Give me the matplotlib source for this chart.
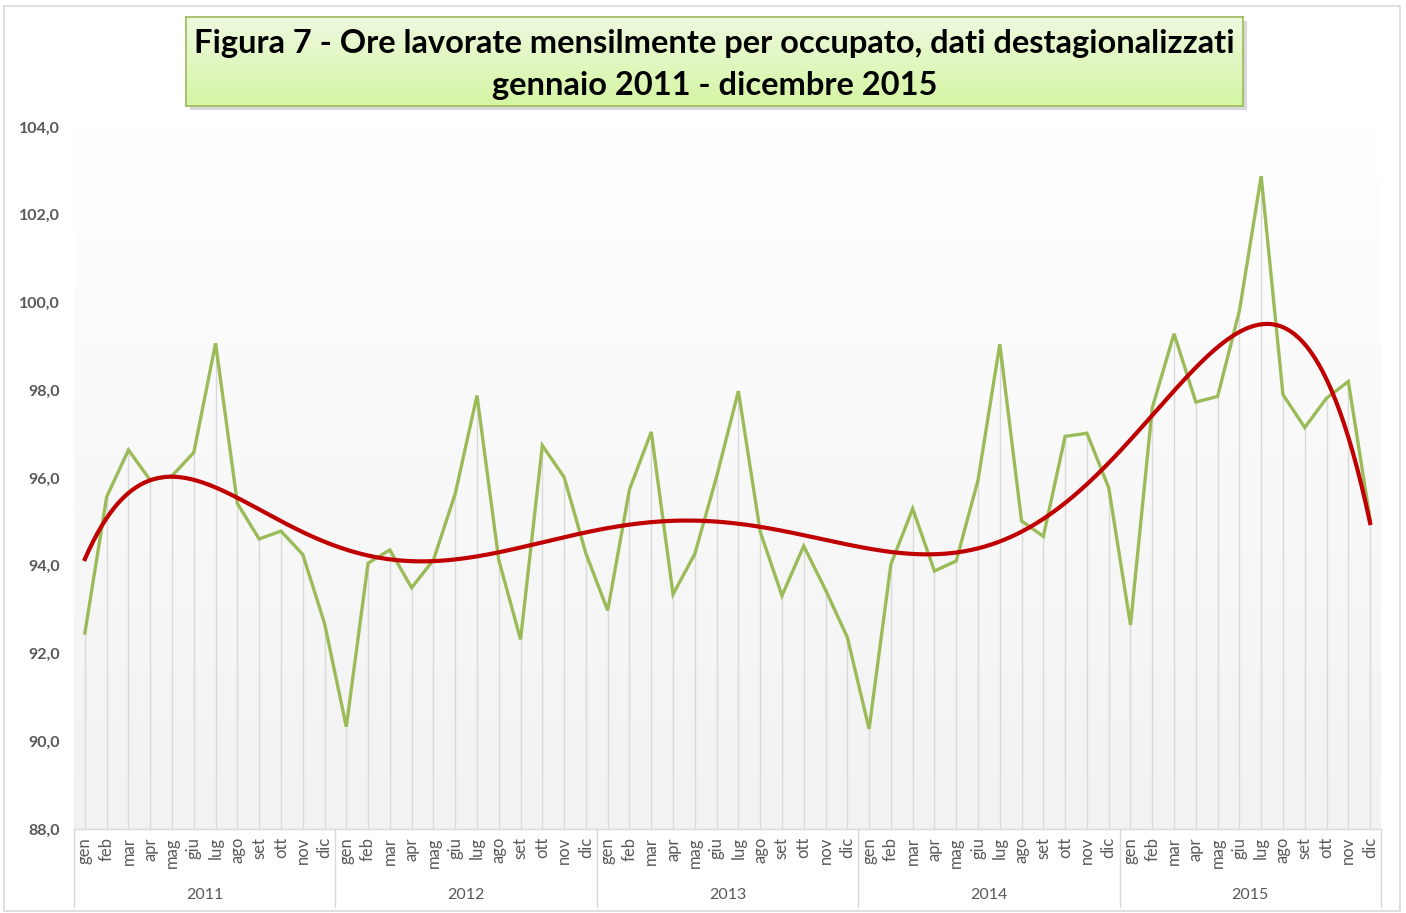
import numpy as np
import matplotlib
matplotlib.use("Agg")
import matplotlib.pyplot as plt
from matplotlib.colors import LinearSegmentedColormap
from matplotlib.patches import Rectangle
import matplotlib.transforms as mtransforms

plt.rcParams['font.family'] = ['Lato', 'DejaVu Sans']

years = ['2011', '2012', '2013', '2014', '2015']
months = ['gen', 'feb', 'mar', 'apr', 'mag', 'giu', 'lug', 'ago', 'set', 'ott', 'nov', 'dic']

values_2011 = [92.47, 95.57, 96.64, 95.95, 96.05, 96.58, 99.07, 95.42, 94.61, 94.79, 94.26, 92.69]
values_2012 = [90.33, 94.06, 94.36, 93.50, 94.13, 95.64, 97.88, 94.13, 92.32, 96.74, 96.02, 94.28]
values_2013 = [92.98, 95.74, 97.05, 93.35, 94.27, 96.03, 97.98, 94.78, 93.32, 94.45, 93.45, 92.37]
values_2014 = [90.28, 94.03, 95.30, 93.88, 94.11, 95.95, 99.05, 95.02, 94.67, 96.95, 97.02, 95.78]
values_2015 = [92.65, 97.60, 99.29, 97.73, 97.86, 99.81, 102.88, 97.90, 97.15, 97.82, 98.20, 95.06]

yticks = [88.0, 90.0, 92.0, 94.0, 96.0, 98.0, 100.0, 102.0, 104.0]
title = "Figura 7 - Ore lavorate mensilmente per occupato, dati destagionalizzati\ngennaio 2011 - dicembre 2015"

values = np.array(values_2011 + values_2012 + values_2013 + values_2014 + values_2015)
n = len(values)
x = np.arange(n)

W, H = 1406, 913
fig = plt.figure(figsize=(W / 100, H / 100), dpi=100)
fig.patch.set_facecolor('white')

# outer frame
fig.patches.append(Rectangle((4 / W, 1 - 911 / H), (1400 - 4) / W, (911 - 6) / H,
                             transform=fig.transFigure, fill=False,
                             edgecolor='#d9d9d9', linewidth=1.2))

left, right, top, bottom = 74, 1381, 127, 829
ax = fig.add_axes([left / W, 1 - bottom / H, (right - left) / W, (bottom - top) / H])
ax.set_xlim(-0.5, n - 0.5)
ax.set_ylim(88, 104)

# gradient background
cmap = LinearSegmentedColormap.from_list('bg', ['#f2f2f2', '#ffffff'])
grad = np.linspace(0, 1, 256).reshape(-1, 1)
ax.imshow(grad, extent=[-0.5, n - 0.5, 88, 104], origin='lower', aspect='auto',
          cmap=cmap, zorder=0)

# drop lines
ax.vlines(x, 88, values, colors='#d9d9d9', linewidth=1.0, zorder=1)

# data line
ax.plot(x, values, color='#9bbb59', linewidth=2.4, zorder=3, solid_joinstyle='miter')

# polynomial trend (order 6)
p = np.polynomial.Polynomial.fit(x + 1, values, 6)
xf = np.linspace(0, n - 1, 600)
ax.plot(xf, p(xf + 1), color='#c00000', linewidth=3.0, zorder=4)

for s in ['top', 'right', 'left']:
    ax.spines[s].set_visible(False)
ax.spines['bottom'].set_color('#d9d9d9')
ax.spines['bottom'].set_linewidth(1.0)

ax.set_yticks(yticks)
ax.set_yticklabels([f"{v:.1f}".replace('.', ',') for v in yticks],
                   fontsize=11.5, fontweight='bold', color='#595959')
ax.tick_params(axis='y', length=0, pad=10)
ax.set_xticks([])

# month labels
trans = mtransforms.blended_transform_factory(ax.transData, fig.transFigure)
for i in range(n):
    ax.text(i, 1 - 837 / H, months[i % 12], transform=trans, rotation=90,
            ha='center', va='top', fontsize=12, color='#595959')
# year labels and separators
for j, yr in enumerate(years):
    ax.text(j * 12 + 5.5, 1 - 895 / H, yr, transform=trans, ha='center', va='center',
            fontsize=11.5, color='#595959')
for b in range(len(years) + 1):
    xb = b * 12 - 0.5
    ax.plot([xb, xb], [1 - 829 / H, 1 - 907 / H], transform=trans, color='#d9d9d9',
            linewidth=1.0, clip_on=False)

# title box
bx0, by0, bx1, by1 = 186, 17, 1243, 106
fig.patches.append(Rectangle(((bx0 + 4) / W, 1 - (by1 + 4) / H), (bx1 - bx0) / W, (by1 - by0) / H,
                             transform=fig.transFigure, facecolor='#bfbfbf', edgecolor='none',
                             alpha=0.6, zorder=1))
tax = fig.add_axes([bx0 / W, 1 - by1 / H, (bx1 - bx0) / W, (by1 - by0) / H], zorder=5)
tcmap = LinearSegmentedColormap.from_list('tb', ['#d5f5a3', '#eef9df'])
tax.imshow(grad, extent=[0, 1, 0, 1], origin='lower', aspect='auto', cmap=tcmap)
tax.set_xlim(0, 1)
tax.set_ylim(0, 1)
tax.set_xticks([])
tax.set_yticks([])
for s in tax.spines.values():
    s.set_color('#9bbb59')
    s.set_linewidth(1.2)
tax.text(0.5, 0.47, title, ha='center', va='center', fontsize=23.5, fontweight='bold',
         color='black', linespacing=1.55, transform=tax.transAxes)

fig.savefig('out.png', dpi=100, facecolor='white')
